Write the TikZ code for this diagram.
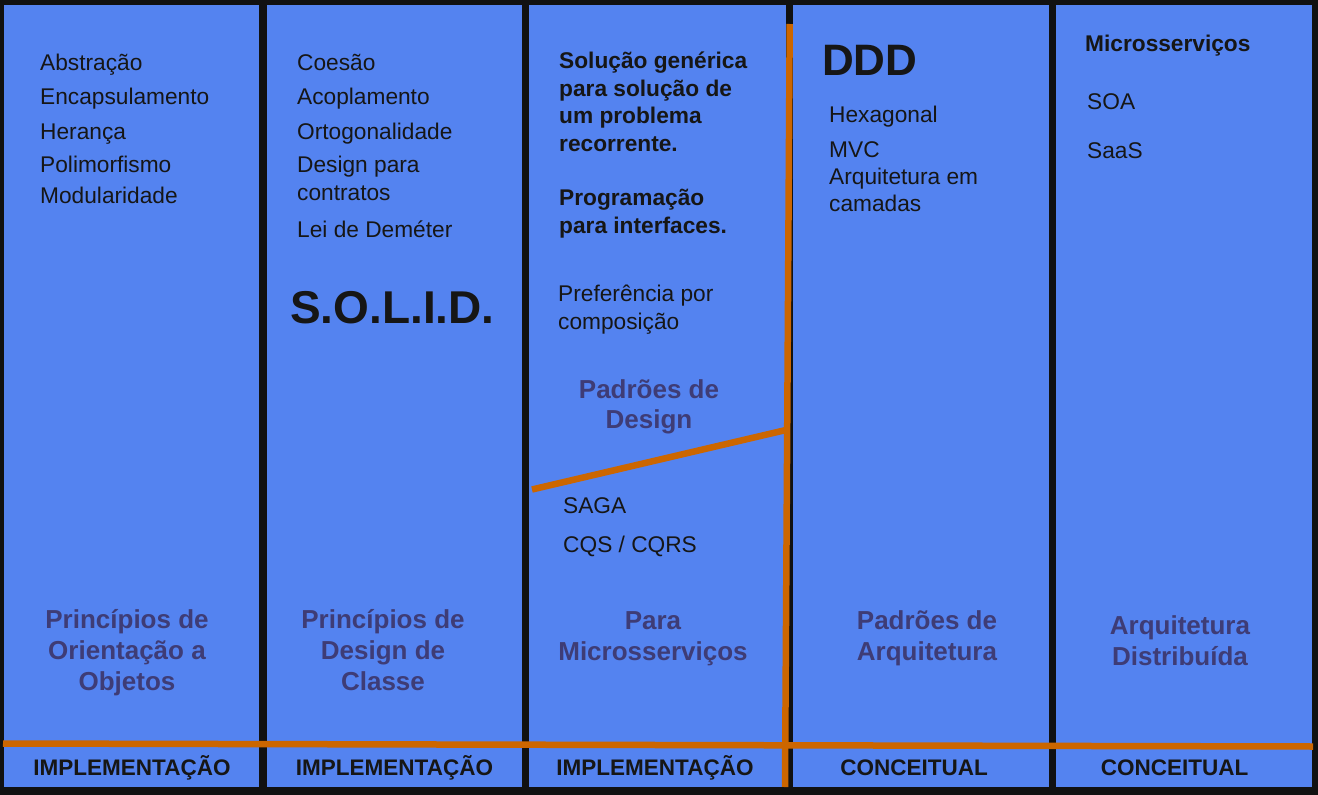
\documentclass[tikz,border=0pt]{standalone}
\usepackage{fontspec}
\setmainfont{Liberation Sans}
\definecolor{bg}{RGB}{17,17,17}
\definecolor{colblue}{RGB}{84,131,240}
\definecolor{orng}{RGB}{204,102,0}
\definecolor{ink}{RGB}{22,22,22}
\definecolor{lab}{RGB}{62,60,118}
\tikzset{
  colbox/.style={fill=colblue, draw=none},
  item/.style={anchor=base west, inner sep=0pt, text=ink, font=\fontsize{22.7}{27}\selectfont},
  bitem/.style={anchor=base west, inner sep=0pt, text=ink, font=\fontsize{22.7}{27}\bfseries\selectfont},
  lbl/.style={anchor=base, inner sep=0pt, text=lab, font=\fontsize{26}{31}\bfseries\selectfont},
  foot/.style={anchor=base, inner sep=0pt, text=ink, font=\fontsize{22.5}{26}\bfseries\selectfont},
  oline/.style={draw=orng, line width=6.5pt},
}
\begin{document}
\begin{tikzpicture}[x=1pt,y=-1pt]
\useasboundingbox (0,0) rectangle (1318,795);
\fill[bg] (0,0) rectangle (1318,795);
% columns
\path[colbox] (4,5) rectangle (259,787);
\path[colbox] (267,5) rectangle (522,787);
\path[colbox] (529,5) rectangle (786,787);
\path[colbox] (793,5) rectangle (1049,787);
\path[colbox] (1056,5) rectangle (1312,787);

% column 1
\node[item] (c1a) at (40,70) {Abstração};
\node[item] (c1b) at (40,104.5) {Encapsulamento};
\node[item] (c1c) at (40,139) {Herança};
\node[item] (c1d) at (40,172) {Polimorfismo};
\node[item] (c1e) at (40,203) {Modularidade};
\node[lbl] (l1a) at (127,628) {Princípios de};
\node[lbl] (l1b) at (127,659) {Orientação a};
\node[lbl] (l1c) at (127,690) {Objetos};

% column 2
\node[item] (c2a) at (297,70) {Coesão};
\node[item] (c2b) at (297,104.5) {Acoplamento};
\node[item] (c2c) at (297,139) {Ortogonalidade};
\node[item] (c2d) at (297,172) {Design para};
\node[item] (c2e) at (297,200) {contratos};
\node[item] (c2f) at (297,237) {Lei de Deméter};
\node[anchor=base west, inner sep=0pt, text=ink, font=\fontsize{46}{52}\bfseries\selectfont] (solid) at (290,323.5) {S.O.L.I.D.};
\node[lbl] (l2a) at (383,628) {Princípios de};
\node[lbl] (l2b) at (383,659) {Design de};
\node[lbl] (l2c) at (383,690) {Classe};

% column 3
\node[bitem] (c3a) at (559,68.5) {Solução genérica};
\node[bitem] (c3b) at (559,96) {para solução de};
\node[bitem] (c3c) at (559,123.5) {um problema};
\node[bitem] (c3d) at (559,151) {recorrente.};
\node[bitem] (c3e) at (559,205) {Programação};
\node[bitem] (c3f) at (559,233) {para interfaces.};
\node[item] (c3g) at (558,301) {Preferência por};
\node[item] (c3h) at (558,329) {composição};
\node[lbl] (l3a) at (649,398) {Padrões de};
\node[lbl] (l3b) at (649,428.5) {Design};
\node[item] (c3i) at (563,513) {SAGA};
\node[item] (c3j) at (563,552.5) {CQS / CQRS};
\node[lbl] (l3c) at (653,629) {Para};
\node[lbl] (l3d) at (653,660) {Microsserviços};

% column 4
\node[anchor=base west, inner sep=0pt, text=ink, font=\fontsize{44}{50}\bfseries\selectfont] (ddd) at (822,75) {DDD};
\node[item] (c4a) at (829,122.5) {Hexagonal};
\node[item] (c4b) at (829,157) {MVC};
\node[item] (c4c) at (829,184.5) {Arquitetura em};
\node[item] (c4d) at (829,211.5) {camadas};
\node[lbl] (l4a) at (927,629) {Padrões de};
\node[lbl] (l4b) at (927,660) {Arquitetura};

% column 5
\node[bitem] (c5a) at (1085,51) {Microsserviços};
\node[item] (c5b) at (1087,109.5) {SOA};
\node[item] (c5c) at (1087,158) {SaaS};
\node[lbl] (l5a) at (1180,634) {Arquitetura};
\node[lbl] (l5b) at (1180,665) {Distribuída};

% footer
\node[foot] (f1) at (132,775.5) {IMPLEMENTAÇÃO};
\node[foot] (f2) at (394.5,775.5) {IMPLEMENTAÇÃO};
\node[foot] (f3) at (655,775.5) {IMPLEMENTAÇÃO};
\node[foot] (f4) at (914,775.5) {CONCEITUAL};
\node[foot] (f5) at (1174.5,775.5) {CONCEITUAL};

% orange lines
\coordinate (hL) at (3,743.5);
\coordinate (hR) at (1313,746.5);
\coordinate (vT) at (789.7,24);
\coordinate (vB) at (785,787);
\coordinate (dL) at (532,489.5);
\coordinate (dR) at (786,430);
\draw[oline] (hL) -- (hR);
\draw[oline] (dL) -- (dR);
\draw[oline] (vT) -- (vB);
\end{tikzpicture}
\end{document}
